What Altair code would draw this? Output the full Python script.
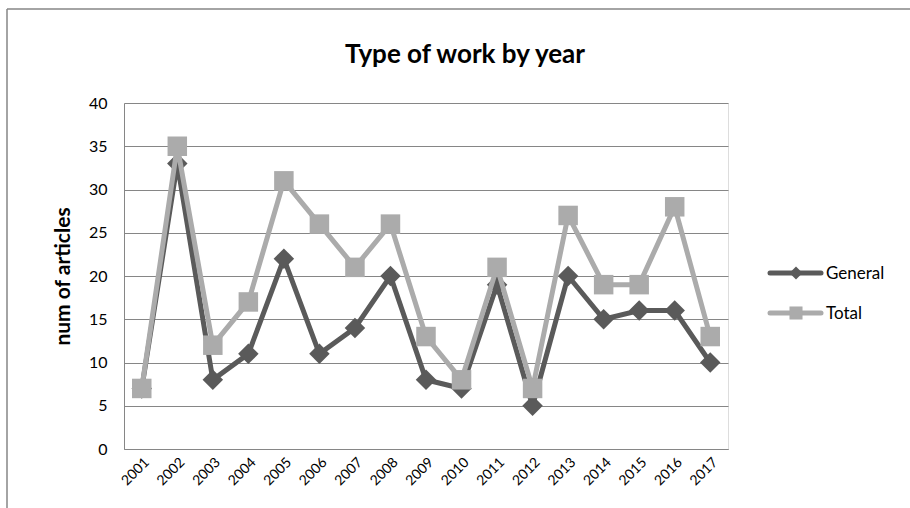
import altair as alt
import pandas as pd

years = [str(y) for y in range(2001, 2018)]
general = [7, 33, 8, 11, 22, 11, 14, 20, 8, 7, 19, 5, 20, 15, 16, 16, 10]
total = [7, 35, 12, 17, 31, 26, 21, 26, 13, 8, 21, 7, 27, 19, 19, 28, 13]
series_names = ["General", "Total"]
series_colors = ["#5A5A5A", "#ABABAB"]
chart_title = "Type of work by year"

FONT = "Lato"
W, H = 604, 346

df = pd.DataFrame({"year": years, "General": general, "Total": total})
long = df.melt("year", var_name="series", value_name="count")

x = alt.X("year:N", sort=years, title=None,
          scale=alt.Scale(paddingInner=0, paddingOuter=0.5),
          axis=alt.Axis(labelAngle=-45, labelFontSize=14, labelFont=FONT,
                        labelColor="#000", domainColor="#868686", ticks=False,
                        labelPadding=6, grid=False))
y = alt.Y("count:Q", title="num of articles",
          scale=alt.Scale(domain=[0, 40]),
          axis=alt.Axis(values=list(range(0, 41, 5)), labelFontSize=16, labelFont=FONT,
                        labelColor="#000", domainColor="#868686", ticks=False,
                        labelPadding=17, gridColor="#868686", gridWidth=1.2,
                        titleFont=FONT, titleFontSize=21, titleFontWeight="bold",
                        titleColor="#000", titlePadding=15))

color = alt.Color("series:N", scale=alt.Scale(domain=series_names, range=series_colors),
                  legend=None)

def series_layer(name, shape, size):
    base = alt.Chart(long[long.series == name])
    line = base.mark_line(strokeWidth=5).encode(x=x, y=y, color=color)
    pts = base.mark_point(shape=shape, filled=True, size=size, opacity=1).encode(x=x, y=y, color=color)
    return line + pts

gen_layer = series_layer("General", "diamond", 420)
tot_layer = series_layer("Total", "square", 380)

# hand-drawn legend on the right of the plot
legend_layers = []
legend_shapes = ["diamond", "square"]
legend_sizes = [170, 170]
for i, name in enumerate(series_names):
    ly = 170 + 40 * i
    legend_layers.append(
        alt.Chart(pd.DataFrame({"n": [name]})).mark_rule(strokeWidth=5, strokeCap="round",
                                                         color=series_colors[i]).encode(
            x=alt.value(646), x2=alt.value(697), y=alt.value(ly)))
    legend_layers.append(
        alt.Chart(pd.DataFrame({"n": [name]})).mark_point(shape=legend_shapes[i], filled=True,
                                                          size=legend_sizes[i], opacity=1,
                                                          color=series_colors[i]).encode(
            x=alt.value(672), y=alt.value(ly)))
    legend_layers.append(
        alt.Chart(pd.DataFrame({"n": [name]})).mark_text(align="left", baseline="middle",
                                                         font=FONT, fontSize=17, color="#000").encode(
            x=alt.value(702), y=alt.value(ly + 1), text="n:N"))

# chart heading
heading = alt.Chart(pd.DataFrame({"t": [chart_title]})).mark_text(
    font=FONT, fontSize=26, fontWeight="bold", color="#000", align="center", baseline="middle"
).encode(x=alt.value(341), y=alt.value(-48), text="t:N")

# outer chart frame
frame = [
    alt.Chart(pd.DataFrame({"a": [0]})).mark_rule(color="#868686", strokeWidth=1.5).encode(
        x=alt.value(-117), x2=alt.value(800), y=alt.value(-94)),
    alt.Chart(pd.DataFrame({"a": [0]})).mark_rule(color="#868686", strokeWidth=1.5).encode(
        x=alt.value(-117), y=alt.value(-94), y2=alt.value(420)),
]

chart = alt.layer(gen_layer, tot_layer, *legend_layers, heading, *frame).properties(
    width=W, height=H,
    autosize=alt.AutoSizeParams(type="none"),
    padding={"left": 124, "top": 103, "right": 910 - 124 - W, "bottom": 508 - 103 - H},
).configure_view(stroke=None).configure(background="white")

chart.save("out.html", embed_options={"renderer": "svg", "actions": False})
